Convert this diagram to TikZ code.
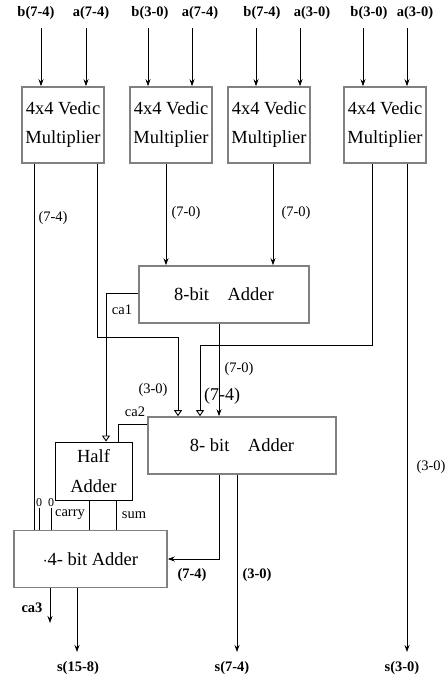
\documentclass[tikz,border=0pt]{standalone}
\usepackage{fontspec}
\setmainfont{Liberation Serif}
\usetikzlibrary{arrows.meta, positioning}

\begin{document}
\begin{tikzpicture}[x=1pt, y=-1pt, line width=0.9pt,
    mulbox/.style={draw=black!50, line width=1.6pt, minimum width=82pt, minimum height=76pt,
        inner sep=0pt, align=center, font=\fontsize{18.5}{29}\selectfont},
    addbox/.style={draw=black!50, line width=1.6pt, minimum height=57pt, inner sep=0pt,
        font=\fontsize{18.5}{20}\selectfont},
    habox/.style={draw, line width=0.9pt, minimum width=77pt, minimum height=58pt,
        inner sep=0pt, align=center, font=\fontsize{18.5}{30}\selectfont},
    lab/.style={inner sep=1pt, font=\fontsize{14.5}{16}\selectfont},
    blab/.style={inner sep=1pt, font=\fontsize{14.5}{16}\selectfont\bfseries},
    arr/.style={-{Stealth[length=7pt, width=5pt]}},
    oarr/.style={-{Triangle[open, length=6pt, width=8pt]}}]
    \useasboundingbox (0,0) rectangle (446,679);

    % Multipliers
    \node[mulbox] (m1) at (63,125) {4x4 Vedic\\Multiplier};
    \node[mulbox] (m2) at (171,125) {4x4 Vedic\\Multiplier};
    \node[mulbox] (m3) at (269,125) {4x4 Vedic\\Multiplier};
    \node[mulbox] (m4) at (385,125) {4x4 Vedic\\Multiplier};

    % Adders
    \node[addbox, minimum width=170pt] (ad1) at (224,294.5) {8-bit\quad Adder};
    \node[addbox, minimum width=188pt] (ad2) at (242,445.5) {8- bit\quad Adder};
    \node[habox] (ha) at (93.5,471) {Half\\Adder};
    \node[addbox, minimum width=153pt] (ad3) at (90.5,559) {$\cdot$4- bit Adder};

    % Inputs
    \node[blab] (ib1) at (36,13) {b(7-4)};
    \node[blab] (ia1) at (91,13) {a(7-4)};
    \node[blab] (ib2) at (150,13) {b(3-0)};
    \node[blab] (ia2) at (200,13) {a(7-4)};
    \node[blab] (ib3) at (262,13) {b(7-4)};
    \node[blab] (ia3) at (312,13) {a(3-0)};
    \node[blab] (ib4) at (369,13) {b(3-0)};
    \node[blab] (ia4) at (415,13) {a(3-0)};
    \coordinate (pb1) at (41,28);
    \coordinate (pa1) at (86,28);
    \coordinate (pb2) at (148,28);
    \coordinate (pa2) at (192,28);
    \coordinate (pb3) at (256,28);
    \coordinate (pa3) at (300,28);
    \coordinate (pb4) at (363,28);
    \coordinate (pa4) at (407,28);
    \draw[arr] (pb1) -- (pb1 |- m1.north);
    \draw[arr] (pa1) -- (pa1 |- m1.north);
    \draw[arr] (pb2) -- (pb2 |- m2.north);
    \draw[arr] (pa2) -- (pa2 |- m2.north);
    \draw[arr] (pb3) -- (pb3 |- m3.north);
    \draw[arr] (pa3) -- (pa3 |- m3.north);
    \draw[arr] (pb4) -- (pb4 |- m4.north);
    \draw[arr] (pa4) -- (pa4 |- m4.north);

    % Multiplier outputs
    \coordinate (o1l) at ([xshift=-29pt]m1.south);
    \coordinate (o1r) at ([xshift=34pt]m1.south);
    \coordinate (o2) at ([xshift=-5pt]m2.south);
    \coordinate (o3) at ([xshift=4pt]m3.south);
    \coordinate (o4l) at ([xshift=-13pt]m4.south);
    \coordinate (o4r) at ([xshift=22pt]m4.south);
    \coordinate (j1) at (178,337);
    \coordinate (j2) at (200,345);
    \draw (o1l) -- (o1l |- ad3.north);
    \draw[oarr] (o1r) |- (j1) -- (j1 |- ad2.north);
    \draw[arr] (o2) -- (o2 |- ad1.north);
    \draw[arr] (o3) -- (o3 |- ad1.north);
    \draw[oarr] (o4l) |- (j2) -- (j2 |- ad2.north);
    \coordinate (e4) at (407,652);
    \draw[arr] (o4r) -- (e4);

    \node[lab] (l1) at (53,218) {(7-4)};
    \node[lab] (l2) at (186,213) {(7-0)};
    \node[lab] (l3) at (296,213) {(7-0)};
    \node[lab] (l4) at (431,467) {(3-0)};

    % Carries and sums
    \draw[oarr] ([yshift=1.5pt]ad1.west) -| ([xshift=12.5pt]ha.north);
    \draw ([yshift=-8pt]ad2.north west) -| ([xshift=25pt]ha.north);
    \coordinate (o5) at ([xshift=-5pt]ad1.south);
    \draw[arr] (o5) -- (o5 |- ad2.north);
    \coordinate (hc) at ([xshift=-4.5pt]ha.south);
    \coordinate (hs) at ([xshift=22.5pt]ha.south);
    \draw (hc) -- (hc |- ad3.north);
    \draw (hs) -- (hs |- ad3.north);
    \node[lab, inner sep=0pt, font=\fontsize{12}{12}\selectfont] (z1) at (39,503) {0};
    \node[lab, inner sep=0pt, font=\fontsize{12}{12}\selectfont] (z2) at (51,503) {0};
    \draw (z1.south) -- (z1.south |- ad3.north);
    \draw (z2.south) -- (z2.south |- ad3.north);

    \node[lab] (c1) at (122,310) {ca1};
    \node[lab] (l5) at (239,369) {(7-0)};
    \node[lab] (l6) at (153,390) {(3-0)};
    \node[lab, font=\fontsize{18}{20}\selectfont] (l7) at (222,396) {(7-4)};
    \node[lab] (c2) at (135,412) {ca2};
    \node[lab] (lc) at (70,515) {carry};
    \node[lab] (ls) at (134,515) {sum};

    % Final outputs
    \coordinate (o6a) at ([xshift=-23pt]ad2.south);
    \coordinate (o6b) at ([xshift=-5pt]ad2.south);
    \draw[arr] (o6a) |- (ad3.east);
    \coordinate (e6) at (237,652);
    \draw[arr] (o6b) -- (e6);
    \coordinate (o7a) at ([xshift=-40.5pt]ad3.south);
    \coordinate (o7b) at ([xshift=-13.5pt]ad3.south);
    \coordinate (e7a) at (50,623);
    \coordinate (e7b) at (77,652);
    \draw[arr] (o7a) -- (e7a);
    \draw[arr] (o7b) -- (e7b);

    \node[blab] (l8) at (192,575) {(7-4)};
    \node[blab] (l9) at (257,575) {(3-0)};
    \node[blab] (c3) at (32,608) {ca3};
    \node[blab] (s1) at (78,668) {s(15-8)};
    \node[blab] (s2) at (232,668) {s(7-4)};
    \node[blab] (s3) at (402,668) {s(3-0)};
\end{tikzpicture}
\end{document}
